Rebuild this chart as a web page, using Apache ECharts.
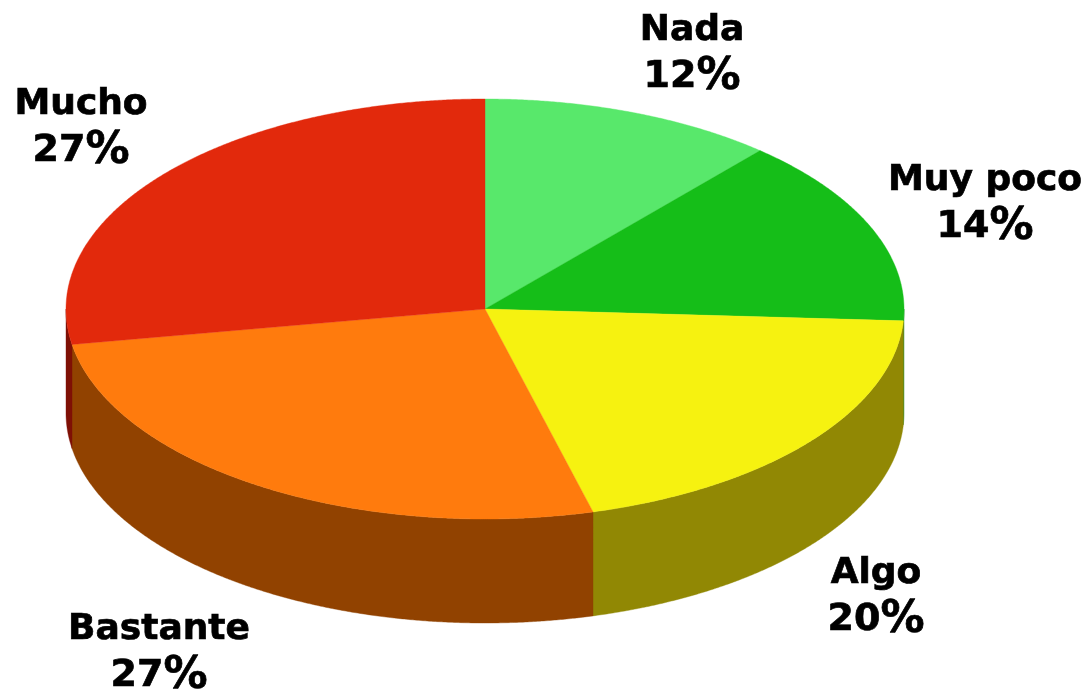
<!DOCTYPE html>
<html>
<head>
<meta charset="utf-8">
<style>html,body{margin:0;padding:0;background:#fff}#c{width:1087px;height:690px}</style>
<script src="https://cdn.jsdelivr.net/npm/echarts@6/dist/echarts.min.js"></script>
</head>
<body>
<div id="c"></div>
<script>
// Data
const categories = ['Nada', 'Muy poco', 'Algo', 'Bastante', 'Mucho'];
const sliceValues = [11.4, 14.5, 19.95, 26.45, 27.7];
const percentLabels = ['12', '14', '20', '27', '27'];

// Styles
const topColors = ['#58E86B', '#15BE18', '#F6F210', '#FF7B0D', '#E2290C'];
const sideColors = ['#0C7A0E', '#0C7A0E', '#918804', '#914200', '#7F1005'];

// Layout
const CX = 485, CY = 309, RX = 419, RY = 210, DEPTH = 104;
const labelCenters = [[692, 54], [985, 204], [876, 597], [159, 653], [81, 128]];

const total = sliceValues.reduce((a, b) => a + b, 0);
const cumulative = [];
sliceValues.reduce((s, v, i) => (cumulative[i] = [s, s + v], s + v), 0);
const toAngle = v => v / total * 2 * Math.PI;
const rimPoint = (a, dy) => [CX + RX * Math.sin(a), CY - RY * Math.cos(a) + dy];

function arcPoints(a0, a1, dy) {
  const n = Math.max(2, Math.ceil((a1 - a0) / 0.005));
  const pts = [];
  for (let i = 0; i <= n; i++) pts.push(rimPoint(a0 + (a1 - a0) * i / n, dy));
  return pts;
}

function renderSide(params) {
  const i = params.dataIndex;
  const a0 = Math.max(toAngle(cumulative[i][0]), Math.PI / 2);
  const a1 = Math.min(toAngle(cumulative[i][1]), Math.PI * 1.5);
  if (a1 <= a0) return { type: 'group', children: [] };
  const pts = arcPoints(a0, a1, 0).concat(arcPoints(a0, a1, DEPTH).reverse());
  return {
    type: 'polygon',
    shape: { points: pts },
    style: { fill: sideColors[i], stroke: sideColors[i], lineWidth: 0.4 }
  };
}

function renderTop(params) {
  const i = params.dataIndex;
  const a0 = toAngle(cumulative[i][0]);
  const a1 = toAngle(cumulative[i][1]);
  const pts = [[CX, CY]].concat(arcPoints(a0, a1, 0));
  return {
    type: 'polygon',
    shape: { points: pts },
    style: { fill: topColors[i], stroke: topColors[i], lineWidth: 0.4 }
  };
}

const tokenBase = { fontFamily: '"DejaVu Sans"', fontWeight: 'bold', fill: '#000', stroke: '#000', lineWidth: 0.7 };

function renderLabel(params) {
  const i = params.dataIndex;
  return {
    type: 'text',
    x: labelCenters[i][0],
    y: labelCenters[i][1],
    style: {
      text: '{n|' + categories[i] + '}\n{d|' + percentLabels[i] + '}{p|%}',
      fill: '#000',
      align: 'center',
      verticalAlign: 'middle',
      rich: {
        n: Object.assign({}, tokenBase, { fontSize: 36, lineHeight: 47 }),
        d: Object.assign({}, tokenBase, { fontSize: 38, lineHeight: 47 }),
        p: Object.assign({}, tokenBase, { fontSize: 44, lineHeight: 47 })
      }
    }
  };
}

const seriesData = sliceValues.map((v, i) => ({ name: categories[i], value: v }));
const chart = echarts.init(document.getElementById('c'), null, { renderer: 'canvas' });
chart.setOption({
  animation: false,
  backgroundColor: '#fff',
  series: [
    { type: 'custom', coordinateSystem: 'none', renderItem: renderSide, data: seriesData, z: 1, silent: true },
    { type: 'custom', coordinateSystem: 'none', renderItem: renderTop, data: seriesData, z: 2, silent: true },
    { type: 'custom', coordinateSystem: 'none', renderItem: renderLabel, data: seriesData, z: 3, silent: true }
  ]
});
</script>
</body>
</html>
